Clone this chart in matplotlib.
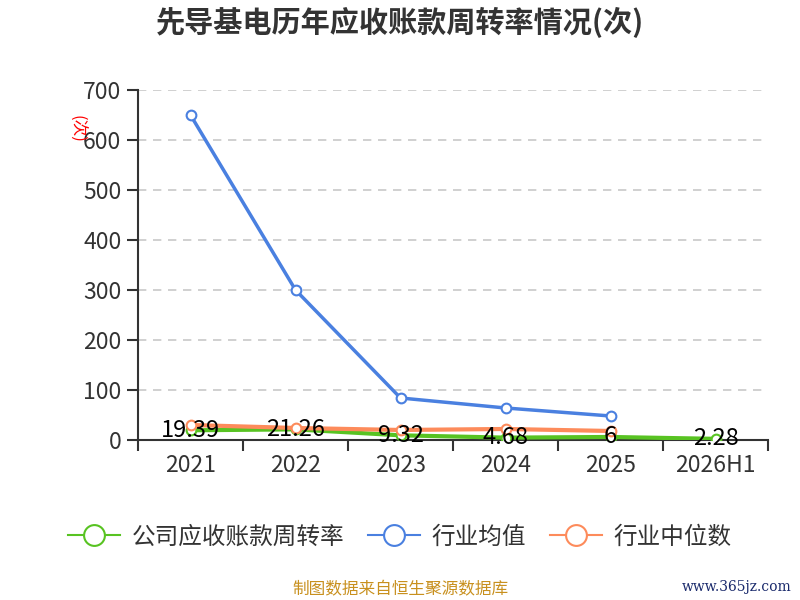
import matplotlib
matplotlib.use('Agg')
import matplotlib.pyplot as plt
from matplotlib.lines import Line2D

plt.rcParams['font.family'] = ['Noto Sans CJK SC', 'DejaVu Sans']

years = ['2021', '2022', '2023', '2024', '2025', '2026H1']
company = [19.39, 21.26, 9.32, 4.68, 6, 2.28]
company_labels = ['19.39', '21.26', '9.32', '4.68', '6', '2.28']
industry_avg = [650, 300, 84, 64, 48]
industry_median = [30, 24, 20, 22, 18]

green = '#58c322'
blue = '#4a80e0'
orange = '#fd8b5b'
text_color = '#333333'

fig = plt.figure(figsize=(8, 6), dpi=100)
ax = fig.add_axes([0.1725, 0.2667, 0.7875, 0.5833])

x = list(range(len(years)))
ax.plot(x, company, color=green, linewidth=3, marker='o', markersize=7,
        markerfacecolor='white', markeredgecolor=green, markeredgewidth=1.5, zorder=3)
ax.plot(x[:len(industry_avg)], industry_avg, color=blue, linewidth=2.5, marker='o', markersize=7,
        markerfacecolor='white', markeredgecolor=blue, markeredgewidth=1.5, zorder=4)
ax.plot(x[:len(industry_median)], industry_median, color=orange, linewidth=3, marker='o', markersize=7,
        markerfacecolor='white', markeredgecolor=orange, markeredgewidth=1.5, zorder=5)

for xi, v, lab in zip(x, company, company_labels):
    ax.text(xi, v, lab, ha='center', va='center', fontsize=17, color='black', zorder=6)

ax.set_xlim(-0.5, len(years) - 0.5)
ax.set_ylim(0, 700)
ax.set_yticks(range(0, 701, 100))
ax.set_xticks(x)
ax.set_xticklabels(years)
ax.set_xticks([i - 0.5 for i in range(len(years) + 1)], minor=True)
ax.tick_params(axis='x', which='major', length=0, pad=10, labelsize=16.5, labelcolor=text_color)
ax.tick_params(axis='x', which='minor', length=8, width=1.5, color=text_color, direction='out')
ax.tick_params(axis='y', length=8, width=1.5, color=text_color, labelsize=16.5, labelcolor=text_color, pad=4)

ax.grid(axis='y', color='#c8c8c8', linestyle=(0, (5, 4)), linewidth=1.2)
ax.set_axisbelow(True)
for s in ['top', 'right']:
    ax.spines[s].set_visible(False)
ax.spines['left'].set_color(text_color)
ax.spines['left'].set_linewidth(1.5)
ax.spines['bottom'].set_color(text_color)
ax.spines['bottom'].set_linewidth(1.5)

fig.text(0.095, 0.785, '(次)', rotation=-90, color='red', fontsize=12, ha='center', va='center')

fig.text(0.5, 0.963, '先导基电历年应收账款周转率情况(次)', ha='center', va='center',
         fontsize=21, fontweight='bold', color=text_color)

handles = [
    Line2D([0], [0], color=green, linewidth=1.5, marker='o', markersize=15,
           markerfacecolor='white', markeredgecolor=green, markeredgewidth=1.5),
    Line2D([0], [0], color=blue, linewidth=1.5, marker='o', markersize=15,
           markerfacecolor='white', markeredgecolor=blue, markeredgewidth=1.5),
    Line2D([0], [0], color=orange, linewidth=1.5, marker='o', markersize=15,
           markerfacecolor='white', markeredgecolor=orange, markeredgewidth=1.5),
]
fig.legend(handles, ['公司应收账款周转率', '行业均值', '行业中位数'], loc='center',
           bbox_to_anchor=(0.5, 0.105), ncol=3, frameon=False, fontsize=17,
           handlelength=2.2, columnspacing=1.0, handletextpad=0.5, labelcolor=text_color)

fig.text(0.5, 0.017, '制图数据来自恒生聚源数据库', ha='center', va='center',
         fontsize=12, color='#c8901e')
fig.text(0.99, 0.022, 'www.365jz.com', ha='right', va='center',
         fontsize=10, color='#1a2a6c', family='DejaVu Serif')

fig.savefig('out.png', dpi=100)
